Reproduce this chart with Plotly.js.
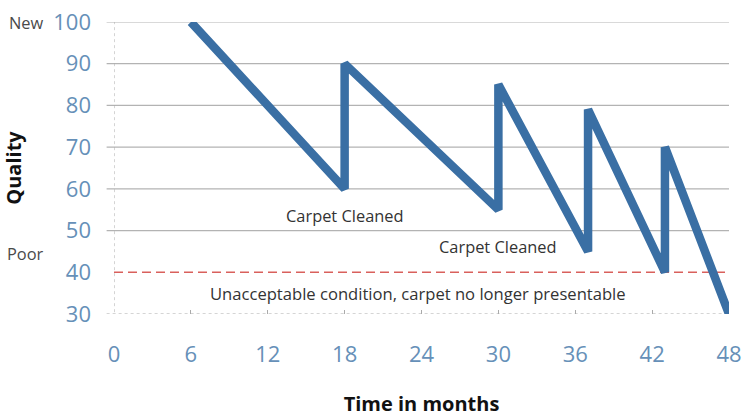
<!DOCTYPE html>
<html>
<head>
<meta charset="utf-8">
<script src="https://cdn.plot.ly/plotly-3.0.1.min.js"></script>
<style>html,body{margin:0;padding:0;background:#fff;}#chart{width:743px;height:417px;}</style>
</head>
<body>
<div id="chart"></div>
<script>
// Data
var months = [6, 18, 18, 30, 30, 37, 37, 43, 43, 48];
var quality = [100, 60, 90, 55, 85, 45, 79, 40, 70, 30];
var xTicks = [0, 6, 12, 18, 24, 30, 36, 42, 48];
var yTicks = [30, 40, 50, 60, 70, 80, 90, 100];
var threshold = 40;
var cleanedX = [18, 30];
var cleanedY = [53.5, 46.3];
var cleanedText = ["Carpet Cleaned", "Carpet Cleaned"];
var thresholdLabel = "Unacceptable condition, carpet no longer presentable";
var levelLabels = ["New", "Poor"];
var levelValues = [100, 44.6];

var font = "'Open Sans', 'DejaVu Sans', sans-serif";
var tickBlue = "#6690b8";

var shapes = [];
// gridlines (except threshold and axis)
yTicks.forEach(function (v) {
  if (v === threshold || v === yTicks[0]) return;
  shapes.push({type: "line", xref: "paper", yref: "y", x0: -0.012, x1: 1, y0: v, y1: v,
    line: {color: "#b3b3b3", width: 1.2}, layer: "below"});
});
// dotted left axis
shapes.push({type: "line", xref: "x", yref: "y", x0: 0, x1: 0, y0: yTicks[0] - 1, y1: yTicks[yTicks.length - 1],
  line: {color: "#aaa", width: 1, dash: "dot"}, layer: "below"});
// dotted bottom axis
shapes.push({type: "line", xref: "paper", yref: "y", x0: -0.012, x1: 1, y0: yTicks[0], y1: yTicks[0],
  line: {color: "#aaa", width: 1, dash: "dot"}, layer: "below"});
// threshold dashed line
shapes.push({type: "line", xref: "paper", yref: "y", x0: 0, x1: 1, y0: threshold, y1: threshold,
  line: {color: "#d9605c", width: 1.6, dash: "9px,5px"}, layer: "below"});

var annotations = [];
for (var i = 0; i < cleanedX.length; i++) {
  annotations.push({x: cleanedX[i], y: cleanedY[i], xref: "x", yref: "y", text: cleanedText[i],
    showarrow: false, font: {family: font, size: 16.4, color: "#333"}});
}
annotations.push({x: 23.7, y: 34.8, xref: "x", yref: "y", text: thresholdLabel, showarrow: false,
  font: {family: font, size: 16.6, color: "#333"}});
for (var j = 0; j < levelLabels.length; j++) {
  annotations.push({x: -0.11, y: levelValues[j], xref: "paper", yref: "y", xanchor: "right",
    text: levelLabels[j], showarrow: false, font: {family: font, size: 16.4, color: "#4a4a4a"}});
}

var trace = {
  x: months, y: quality, type: "scatter", mode: "lines",
  line: {color: "#3a6fa4", width: 8.5},
  hoverinfo: "skip"
};

var layout = {
  width: 743, height: 417,
  margin: {l: 114, r: 14, t: 22, b: 103},
  paper_bgcolor: "#fff", plot_bgcolor: "#fff",
  showlegend: false,
  xaxis: {
    range: [0, 48], tickvals: xTicks, ticktext: xTicks.map(String),
    showgrid: false, zeroline: false, showline: false,
    ticks: "inside", ticklen: 4, tickcolor: "#aaa",
    ticklabelstandoff: 25,
    tickfont: {family: font, size: 22, color: tickBlue},
    title: {text: "Time in months", font: {family: font, size: 20, color: "#111", weight: "bold"}, standoff: 30}
  },
  yaxis: {
    range: [30, 100], tickvals: yTicks, ticktext: yTicks.map(String),
    showgrid: false, zeroline: false, showline: false,
    ticks: "", ticklabelstandoff: 22,
    tickfont: {family: font, size: 22, color: tickBlue},
    title: {text: "Quality", font: {family: font, size: 20, color: "#111", weight: "bold"}, standoff: 55}
  },
  shapes: shapes,
  annotations: annotations
};

Plotly.newPlot("chart", [trace], layout, {displayModeBar: false, staticPlot: true});
</script>
</body>
</html>
